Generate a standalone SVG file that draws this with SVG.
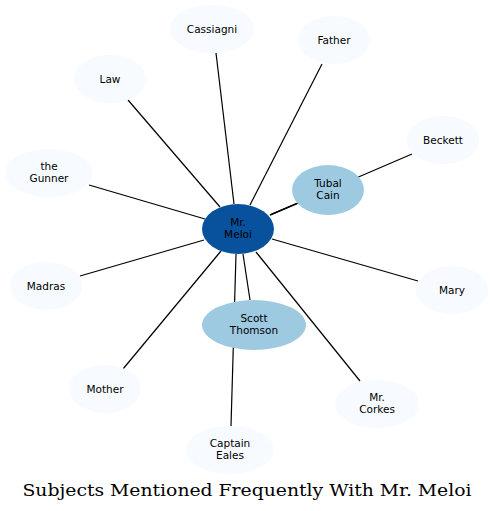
<svg xmlns="http://www.w3.org/2000/svg" width="494" height="511" viewBox="0 0 494 511">
<style>
.e{stroke:#000;stroke-width:1.2;fill:none}
.o{fill:#f7fbff}
.m{fill:#9ecae1}
.c{fill:#08519c}
text{font-family:"DejaVu Sans",sans-serif;font-size:10.5px;text-anchor:middle;fill:#000}
.t{font-family:"DejaVu Serif","Liberation Serif",serif;font-size:16px}
</style>
<rect width="494" height="511" fill="#fff"/>
<g id="edges">
<line class="e" x1="234" y1="204" x2="216" y2="53"/>
<line class="e" x1="250" y1="205" x2="322" y2="64"/>
<line class="e" x1="220" y1="207" x2="128" y2="100"/>
<line class="e" x1="205" y1="219" x2="89" y2="185"/>
<line class="e" x1="204" y1="240" x2="80" y2="276"/>
<line class="e" x1="221" y1="251" x2="123" y2="369"/>
<line class="e" x1="236" y1="254" x2="231" y2="426"/>
<line class="e" x1="243" y1="254" x2="250" y2="300"/>
<line class="e" x1="256" y1="252" x2="360" y2="381"/>
<line class="e" x1="272" y1="239" x2="418" y2="281"/>
<line class="e" x1="270" y1="215" x2="412" y2="154"/>
<line class="e" x1="270" y1="215" x2="297" y2="203.4" style="stroke-width:1.6"/>
</g>
<g id="cassiagni"><ellipse class="o" cx="212" cy="29" rx="42" ry="24"/><text x="212" y="32.5">Cassiagni</text></g>
<g id="father"><ellipse class="o" cx="334" cy="40" rx="36" ry="24"/><text x="334" y="43.5">Father</text></g>
<g id="law"><ellipse class="o" cx="110" cy="79" rx="36" ry="24"/><text x="110" y="82.5">Law</text></g>
<g id="beckett"><ellipse class="o" cx="443" cy="140" rx="36" ry="24"/><text x="443" y="143.5">Beckett</text></g>
<g id="gunner"><ellipse class="o" cx="49" cy="173" rx="44" ry="24"/><text x="49" y="170">the</text><text x="49" y="182">Gunner</text></g>
<g id="madras"><ellipse class="o" cx="46" cy="286" rx="36" ry="24"/><text x="46" y="289.5">Madras</text></g>
<g id="mary"><ellipse class="o" cx="452" cy="290" rx="36" ry="24"/><text x="452" y="293.5">Mary</text></g>
<g id="mother"><ellipse class="o" cx="105" cy="389" rx="36" ry="24"/><text x="105" y="392.5">Mother</text></g>
<g id="corkes"><ellipse class="o" cx="377" cy="404" rx="42" ry="24"/><text x="377" y="401">Mr.</text><text x="377" y="413">Corkes</text></g>
<g id="eales"><ellipse class="o" cx="230" cy="450" rx="44" ry="24"/><text x="230" y="447">Captain</text><text x="230" y="459">Eales</text></g>
<g id="tubal"><ellipse class="m" cx="328" cy="190" rx="36" ry="25"/><text x="328" y="187">Tubal</text><text x="328" y="199">Cain</text></g>
<g id="scott"><ellipse class="m" cx="254" cy="325" rx="52" ry="25"/><text x="254" y="322">Scott</text><text x="254" y="334">Thomson</text></g>
<g id="meloi"><ellipse class="c" cx="238" cy="229" rx="36" ry="25"/><text x="238" y="226">Mr.</text><text x="238" y="238">Meloi</text></g>
<text class="t" x="247" y="496" textLength="449" lengthAdjust="spacingAndGlyphs">Subjects Mentioned Frequently With Mr. Meloi</text>
</svg>
